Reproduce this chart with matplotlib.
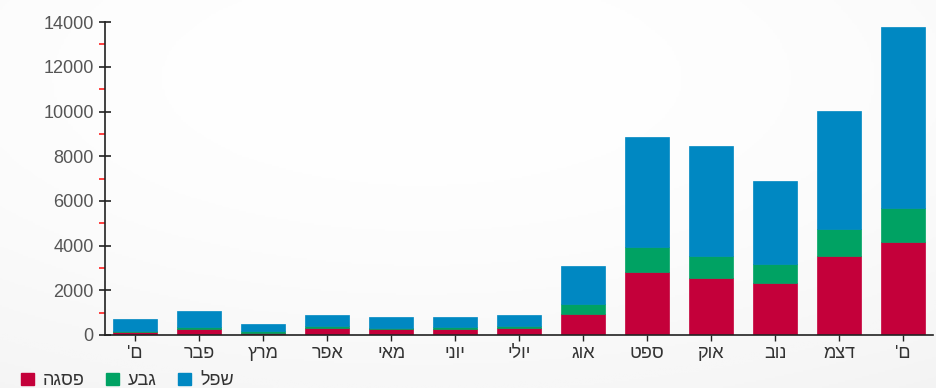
import numpy as np
import matplotlib
matplotlib.use("Agg")
import matplotlib.pyplot as plt
from matplotlib.patches import Patch
from matplotlib.ticker import MultipleLocator

plt.rcParams["font.family"] = ["Liberation Sans", "DejaVu Sans"]

# data (Hebrew written in reversed order, the reference shows it left-to-right)
months = ["'ם", "רבפ", "ץרמ", "רפא", "יאמ", "ינוי", "ילוי", "גוא", "טפס", "קוא", "בונ", "מצד", "'ם"]
peak = [120, 280, 100, 330, 250, 260, 310, 940, 2830, 2560, 2340, 3550, 4150]     # פסגה
mid = [60, 90, 65, 70, 80, 80, 90, 430, 1120, 970, 840, 1210, 1520]               # גבע
low = [520, 700, 315, 480, 460, 450, 480, 1730, 4920, 4940, 3710, 5260, 8110]     # שפל
legend_labels = ["הגספ", "עבג", "לפש"]

red = "#c4003a"
green = "#00a263"
blue = "#0088c2"

fig = plt.figure(figsize=(9.37, 3.88), dpi=100)
fig.patch.set_facecolor("#f5f8fa")

# soft background gradient
bg = fig.add_axes([0, 0, 1, 1], zorder=-10)
yy, xx = np.mgrid[0:1:200j, 0:1:400j]
grad = 1 - 0.5 * ((xx - 0.45) ** 2 + (yy - 0.2) ** 2)
bg.imshow(grad, cmap="Greys_r", vmin=-4, vmax=1.02, aspect="auto", extent=[0, 1, 0, 1])
bg.axis("off")

ax = fig.add_axes([0.112, 0.1366, 0.884, 0.8064])
ax.set_facecolor("none")

x = np.arange(len(months))
w = 0.69
ax.bar(x, peak, w, color=red, edgecolor=red, linewidth=0.5)
ax.bar(x, mid, w, bottom=peak, color=green, edgecolor=green, linewidth=0.5)
base2 = np.array(peak) + np.array(mid)
ax.bar(x, low, w, bottom=base2, color=blue, edgecolor=blue, linewidth=0.5)

ax.set_xlim(-0.47, len(months) - 0.53)
ax.set_ylim(0, 14000)
ax.set_xticks(x)
ax.set_xticklabels(months, fontsize=13, color="#333333")
ax.yaxis.set_major_locator(MultipleLocator(2000))
ax.yaxis.set_minor_locator(MultipleLocator(1000))
ax.tick_params(axis="y", which="major", direction="inout", length=8, width=1.2,
               labelsize=13, labelcolor="#555555", color="#222222", pad=4)
ax.tick_params(axis="y", which="minor", direction="out", length=4, width=1.2, color="#ff2020")
ax.tick_params(axis="x", which="major", direction="out", length=4, width=1, color="#222222", pad=3)

for s in ["top", "right"]:
    ax.spines[s].set_visible(False)
ax.spines["left"].set_color("#222222")
ax.spines["bottom"].set_color("#222222")
ax.spines["left"].set_linewidth(1.2)
ax.spines["bottom"].set_linewidth(1.2)

handles = [Patch(color=c, label=l) for c, l in zip([red, green, blue], legend_labels)]
fig.legend(handles=handles, loc="lower left", bbox_to_anchor=(0.005, -0.045), ncol=3, frameon=False,
           fontsize=13, handlelength=0.7, handleheight=0.7, handletextpad=0.5, columnspacing=1.2,
           labelcolor="#333333")

fig.savefig("out.png", dpi=100, facecolor=fig.get_facecolor())
